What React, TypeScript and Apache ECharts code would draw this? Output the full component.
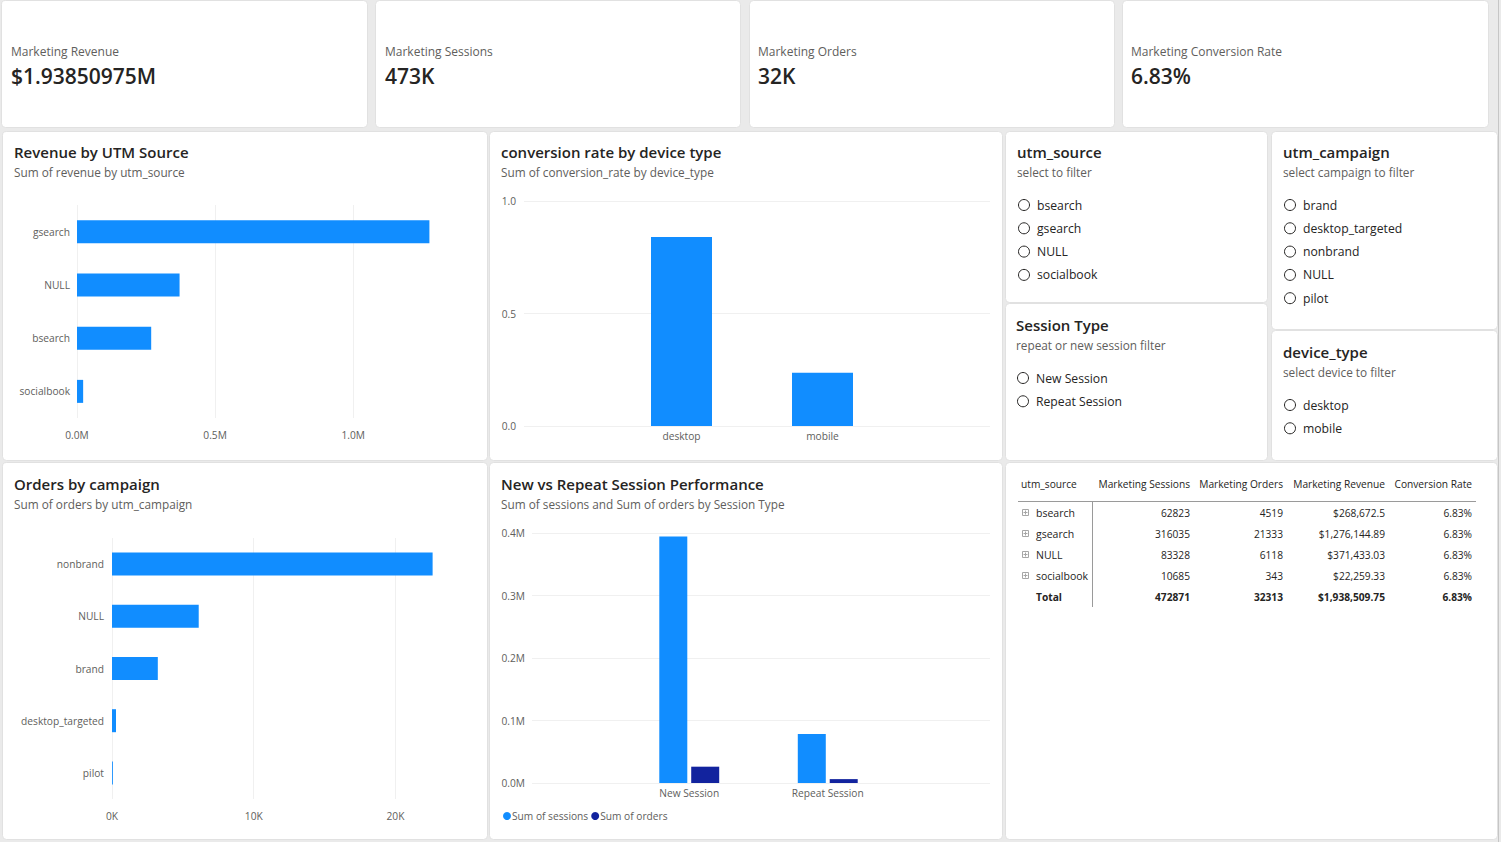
import React, { useEffect, useRef } from 'react';
import * as echarts from 'echarts';

// ---------- data ----------
const sources = ['bsearch', 'gsearch', 'NULL', 'socialbook'];
const sourceSessions = [62823, 316035, 83328, 10685];
const sourceOrders = [4519, 21333, 6118, 343];
const sourceRevenue = [268672.5, 1276144.89, 371433.03, 22259.33];
const sourceConvRate = [6.83, 6.83, 6.83, 6.83];
const totalConvRate = 6.83;

const devices = ['desktop', 'mobile'];
const deviceConvRate = [0.84, 0.237];

const campaigns = ['brand', 'desktop_targeted', 'nonbrand', 'NULL', 'pilot'];
const campaignOrders = [3232, 282, 22620, 6118, 61];

const sessionTypes = ['New Session', 'Repeat Session'];
const sessionTypeSessions = [394300, 78571];
const sessionTypeOrders = [26100, 6213];

const revenueAxis = { min: 0, max: 1300000, interval: 500000 };
const convAxis = { min: 0, max: 1, interval: 0.5 };
const ordersAxis = { min: 0, max: 23000, interval: 10000 };
const sessionsAxis = { min: 0, max: 400000, interval: 100000 };

const tableHeaders = ['utm_source', 'Marketing Sessions', 'Marketing Orders', 'Marketing Revenue', 'Conversion Rate'];

// ---------- style ----------
const FONT = "'Segoe UI', 'Open Sans', sans-serif";
const BLUE = '#118DFF';
const NAVY = '#12239E';
const DARK = '#252423';
const GREY = '#605e5c';
const GRIDC = '#f0f0f0';
const SMALL = 10.2;

const sum = (a: number[]) => a.reduce((s, v) => s + v, 0);
const fmtMoney = (v: number) => '$' + v.toLocaleString('en-US', { maximumFractionDigits: 2 });

function T(x: number, y: number, text: string, size: number, color: string, opts: any = {}) {
  return {
    type: 'text', x, y, silent: true, z: 10,
    style: {
      text, fontSize: size, fontFamily: FONT, fill: color,
      verticalAlign: 'middle', align: opts.align || 'left', fontWeight: opts.weight || 'normal',
    },
  };
}
function card(x: number, y: number, w: number, h: number) {
  return {
    type: 'rect', silent: true, z: 0,
    shape: { x: x + 0.5, y: y + 0.5, width: w, height: h, r: 4 },
    style: { fill: '#ffffff', stroke: '#e1e1e1', lineWidth: 1 },
  };
}
function radio(cx: number, cy: number, label: string) {
  return [
    { type: 'circle', silent: true, z: 10, shape: { cx, cy, r: 5.5 }, style: { fill: '#fff', stroke: DARK, lineWidth: 1 } },
    T(cx + 13, cy, label, 12.2, DARK),
  ];
}
function hline(x1: number, x2: number, y: number, color: string) {
  return { type: 'line', silent: true, z: 10, shape: { x1, y1: y, x2, y2: y }, style: { stroke: color, lineWidth: 1 } };
}
function vline(x: number, y1: number, y2: number, color: string) {
  return { type: 'line', silent: true, z: 10, shape: { x1: x, y1, x2: x, y2 }, style: { stroke: color, lineWidth: 1 } };
}

function buildGraphics() {
  const g: any[] = [];
  // cards
  g.push(card(1, 0, 366, 127), card(375, 0, 365, 127), card(749, 0, 365, 127), card(1122, 0, 366, 127));
  g.push(card(2, 131, 485, 329), card(489, 131, 513, 329));
  g.push(card(1005, 131, 262, 171), card(1005, 303, 262, 157));
  g.push(card(1271, 131, 226, 198), card(1271, 330, 226, 130));
  g.push(card(2, 462, 485, 377), card(489, 462, 513, 377), card(1005, 462, 492, 377));
  g.push(vline(1498.5, 0, 842, '#c6c6c6'));

  // KPI cards
  const totRev = sum(sourceRevenue);
  const totSess = sum(sourceSessions);
  const totOrd = sum(sourceOrders);
  const kpis = [
    ['Marketing Revenue', '$' + (totRev / 1e6) + 'M', 11],
    ['Marketing Sessions', Math.round(totSess / 1000) + 'K', 385],
    ['Marketing Orders', Math.round(totOrd / 1000) + 'K', 758],
    ['Marketing Conversion Rate', totalConvRate.toFixed(2) + '%', 1131],
  ] as [string, string, number][];
  kpis.forEach(([l, v, x]) => {
    g.push(T(x, 51, l, 12, GREY));
    g.push(T(x, 76, v, 21, DARK, { weight: 600 }));
  });

  // chart titles
  const titles = [
    [14, 152, 'Revenue by UTM Source', 'Sum of revenue by utm_source'],
    [501, 152, 'conversion rate by device type', 'Sum of conversion_rate by device_type'],
    [14, 484, 'Orders by campaign', 'Sum of orders by utm_campaign'],
    [501, 484, 'New vs Repeat Session Performance', 'Sum of sessions and Sum of orders by Session Type'],
  ] as [number, number, string, string][];
  titles.forEach(([x, y, t, s]) => {
    g.push(T(x, y, t, 15, DARK, { weight: 600 }));
    g.push(T(x, y + 20, s, 11.8, GREY));
  });

  // slicers
  g.push(T(1017, 152, 'utm_source', 15, DARK, { weight: 600 }));
  g.push(T(1017, 172, 'select to filter', 11.8, GREY));
  sources.forEach((s, i) => g.push(...radio(1024, 205 + i * 23.3, s)));

  g.push(T(1283, 152, 'utm_campaign', 15, DARK, { weight: 600 }));
  g.push(T(1283, 172, 'select campaign to filter', 11.8, GREY));
  campaigns.forEach((s, i) => g.push(...radio(1290, 205 + i * 23.3, s)));

  g.push(T(1016, 325, 'Session Type', 15, DARK, { weight: 600 }));
  g.push(T(1016, 345, 'repeat or new session filter', 11.8, GREY));
  sessionTypes.forEach((s, i) => g.push(...radio(1023, 378 + i * 23.3, s)));

  g.push(T(1283, 352, 'device_type', 15, DARK, { weight: 600 }));
  g.push(T(1283, 372, 'select device to filter', 11.8, GREY));
  devices.forEach((s, i) => g.push(...radio(1290, 405 + i * 23.3, s)));

  // table
  const colRight = [1190, 1283, 1385, 1472];
  g.push(T(1021, 484, tableHeaders[0], SMALL, DARK));
  tableHeaders.slice(1).forEach((h, i) => g.push(T(colRight[i], 484, h, SMALL, DARK, { align: 'right' })));
  g.push(hline(1018, 1476, 501.5, '#9a9a9a'));
  g.push(vline(1092.5, 502, 607, '#9a9a9a'));
  sources.forEach((s, i) => {
    const y = 513 + i * 21;
    g.push({ type: 'rect', silent: true, z: 10, shape: { x: 1022.5, y: y - 3.5, width: 6, height: 6 }, style: { fill: '#fff', stroke: '#a6a6a6', lineWidth: 1 } });
    g.push(hline(1023.5, 1027.5, y - 0.5, '#a6a6a6'));
    g.push(vline(1025.5, y - 2.5, y + 1.5, '#a6a6a6'));
    g.push(T(1036, y, s, SMALL + 0.3, DARK));
    g.push(T(colRight[0], y, String(sourceSessions[i]), SMALL, DARK, { align: 'right' }));
    g.push(T(colRight[1], y, String(sourceOrders[i]), SMALL, DARK, { align: 'right' }));
    g.push(T(colRight[2], y, fmtMoney(sourceRevenue[i]), SMALL, DARK, { align: 'right' }));
    g.push(T(colRight[3], y, sourceConvRate[i].toFixed(2) + '%', SMALL, DARK, { align: 'right' }));
  });
  const ty = 513 + sources.length * 21;
  g.push(T(1036, ty, 'Total', SMALL, DARK, { weight: 'bold' }));
  g.push(T(colRight[0], ty, String(totSess), SMALL, DARK, { align: 'right', weight: 'bold' }));
  g.push(T(colRight[1], ty, String(totOrd), SMALL, DARK, { align: 'right', weight: 'bold' }));
  g.push(T(colRight[2], ty, fmtMoney(Math.round(totRev * 100) / 100), SMALL, DARK, { align: 'right', weight: 'bold' }));
  g.push(T(colRight[3], ty, totalConvRate.toFixed(2) + '%', SMALL, DARK, { align: 'right', weight: 'bold' }));
  return g;
}

function sortDesc(names: string[], vals: number[]) {
  const idx = names.map((_, i) => i).sort((a, b) => vals[b] - vals[a]);
  return { names: idx.map((i) => names[i]), vals: idx.map((i) => vals[i]) };
}

const axisLabelStyle = { color: GREY, fontSize: SMALL, fontFamily: FONT };
const gridLines4 = [GRIDC, GRIDC, GRIDC, 'rgba(0,0,0,0)'];

export default function App() {
  const ref = useRef<HTMLDivElement>(null);
  useEffect(() => {
    if (!ref.current) return;
    const chart = echarts.init(ref.current, undefined, { renderer: 'svg' });
    const rev = sortDesc(sources, sourceRevenue);
    const ord = sortDesc(campaigns, campaignOrders);
    const hidden = { show: false };
    chart.setOption({
      animation: false,
      backgroundColor: '#eaeaea',
      textStyle: { fontFamily: FONT },
      graphic: { elements: buildGraphics() },
      legend: {
        data: ['Sum of sessions', 'Sum of orders'],
        left: 498, top: 806, icon: 'circle', itemWidth: 8, itemHeight: 8, itemGap: 3,
        textStyle: { color: GREY, fontSize: SMALL, fontFamily: FONT, padding: [0, 0, 0, -4] },
      },
      grid: [
        { left: 77, top: 205, width: 359, height: 213 },
        { left: 524, top: 201, width: 466, height: 225 },
        { left: 611, top: 201, width: 282, height: 225 },
        { left: 112, top: 538, width: 326, height: 261 },
        { left: 532, top: 533, width: 458, height: 250 },
        { left: 620, top: 533, width: 277, height: 250 },
      ],
      xAxis: [
        {
          gridIndex: 0, type: 'value', ...revenueAxis,
          axisLine: hidden, axisTick: hidden,
          splitLine: { lineStyle: { color: gridLines4 } },
          axisLabel: { ...axisLabelStyle, margin: 12, showMaxLabel: false, formatter: (v: number) => (v / 1e6).toFixed(1) + 'M' },
        },
        { gridIndex: 1, type: 'value', show: false, min: 0, max: 1 },
        {
          gridIndex: 2, type: 'category', data: devices,
          axisLine: hidden, axisTick: hidden, axisLabel: { ...axisLabelStyle, margin: 5 },
        },
        {
          gridIndex: 3, type: 'value', ...ordersAxis,
          axisLine: hidden, axisTick: hidden,
          splitLine: { lineStyle: { color: gridLines4 } },
          axisLabel: { ...axisLabelStyle, margin: 12, showMaxLabel: false, formatter: (v: number) => v / 1000 + 'K' },
        },
        { gridIndex: 4, type: 'value', show: false, min: 0, max: 1 },
        {
          gridIndex: 5, type: 'category', data: sessionTypes,
          axisLine: hidden, axisTick: hidden, axisLabel: { ...axisLabelStyle, margin: 5 },
        },
      ],
      yAxis: [
        {
          gridIndex: 0, type: 'category', data: rev.names, inverse: true,
          axisLine: hidden, axisTick: hidden, axisLabel: { ...axisLabelStyle, margin: 7 },
        },
        {
          gridIndex: 1, type: 'value', ...convAxis,
          axisLine: hidden, axisTick: hidden,
          splitLine: { lineStyle: { color: GRIDC } },
          axisLabel: { ...axisLabelStyle, margin: 8, formatter: (v: number) => v.toFixed(1) },
        },
        { gridIndex: 2, type: 'value', show: false, ...convAxis },
        {
          gridIndex: 3, type: 'category', data: ord.names, inverse: true,
          axisLine: hidden, axisTick: hidden, axisLabel: { ...axisLabelStyle, margin: 8 },
        },
        {
          gridIndex: 4, type: 'value', ...sessionsAxis,
          axisLine: hidden, axisTick: hidden,
          splitLine: { lineStyle: { color: GRIDC } },
          axisLabel: { ...axisLabelStyle, margin: 7, formatter: (v: number) => (v / 1e6).toFixed(1) + 'M' },
        },
        { gridIndex: 5, type: 'value', show: false, ...sessionsAxis },
      ],
      series: [
        { name: 'Sum of revenue', type: 'bar', xAxisIndex: 0, yAxisIndex: 0, data: rev.vals, barWidth: 23, itemStyle: { color: BLUE } },
        { name: 'Sum of conversion_rate', type: 'bar', xAxisIndex: 2, yAxisIndex: 2, data: deviceConvRate, barWidth: 61, itemStyle: { color: BLUE } },
        { name: 'Sum of orders by campaign', type: 'bar', xAxisIndex: 3, yAxisIndex: 3, data: ord.vals, barWidth: 23, itemStyle: { color: BLUE } },
        { name: 'Sum of sessions', type: 'bar', xAxisIndex: 5, yAxisIndex: 5, data: sessionTypeSessions, barWidth: 28, barGap: '14%', itemStyle: { color: BLUE } },
        { name: 'Sum of orders', type: 'bar', xAxisIndex: 5, yAxisIndex: 5, data: sessionTypeOrders, barWidth: 28, barGap: '14%', itemStyle: { color: NAVY } },
      ],
    });
    return () => chart.dispose();
  }, []);
  return <div ref={ref} style={{ position: 'fixed', left: 0, top: 0, width: 1501, height: 842 }} />;
}
